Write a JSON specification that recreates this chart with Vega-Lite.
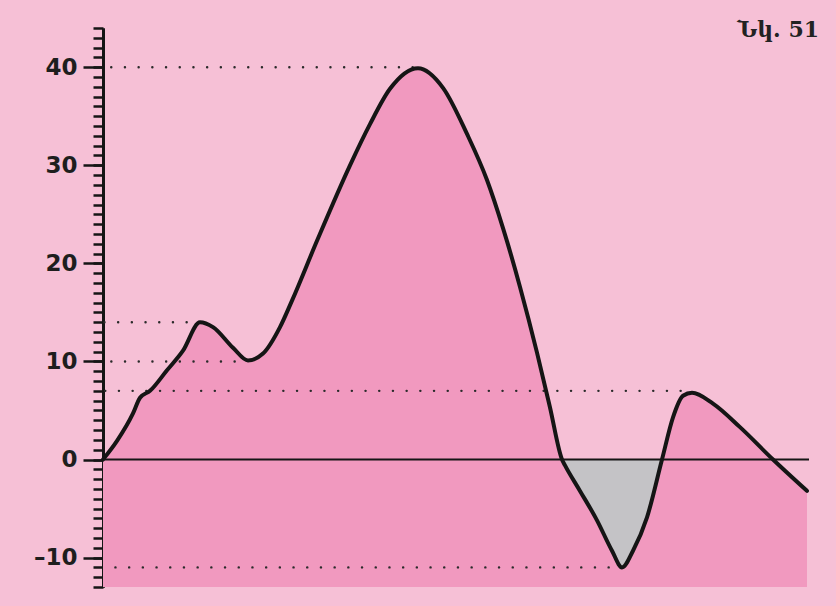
{
  "$schema": "https://vega.github.io/schema/vega-lite/v6.json",
  "width": 706,
  "height": 559,
  "autosize": "none",
  "padding": {"left": 103, "top": 28, "right": 27, "bottom": 19},
  "background": "#f6c0d6",
  "config": {"view": {"stroke": null}},
  "title": {"text": "Նկ. 51", "anchor": "end", "font": "DejaVu Serif", "fontSize": 22, "fontWeight": "bold", "color": "#222222", "offset": -15, "dx": 9},
  "datasets": {
    "curve": [
      {"x": 0, "y": 0}, {"x": 14, "y": 1.9}, {"x": 30, "y": 4.7}, {"x": 37, "y": 6.3},
      {"x": 47, "y": 7.0}, {"x": 64, "y": 9.1}, {"x": 80, "y": 11.1}, {"x": 97, "y": 14.0},
      {"x": 110, "y": 13.5}, {"x": 130, "y": 11.4}, {"x": 145, "y": 10.1}, {"x": 160, "y": 10.8},
      {"x": 177, "y": 13.5}, {"x": 189, "y": 16.2}, {"x": 214, "y": 22.3}, {"x": 247, "y": 30.0},
      {"x": 267, "y": 34.2}, {"x": 287, "y": 37.8}, {"x": 315, "y": 39.9}, {"x": 340, "y": 37.9},
      {"x": 364, "y": 33.2}, {"x": 384, "y": 28.5}, {"x": 400, "y": 23.6}, {"x": 417, "y": 17.6},
      {"x": 434, "y": 10.9}, {"x": 447, "y": 5.3}, {"x": 459, "y": 0}, {"x": 462, "y": -0.6},
      {"x": 477, "y": -3.2}, {"x": 494, "y": -6.2}, {"x": 509, "y": -9.3}, {"x": 519, "y": -11.0},
      {"x": 530, "y": -9.3}, {"x": 544, "y": -5.9}, {"x": 559, "y": 0}, {"x": 570, "y": 4.3},
      {"x": 580, "y": 6.5}, {"x": 589, "y": 6.8}, {"x": 610, "y": 5.7}, {"x": 637, "y": 3.3},
      {"x": 670, "y": 0}, {"x": 704, "y": -3.2}
    ],
    "refs": [
      {"level": 40, "xend": 310},
      {"level": 14, "xend": 84},
      {"level": 10, "xend": 132},
      {"level": 7, "xend": 578},
      {"level": -11, "xend": 506}
    ]
  },
  "resolve": {"axis": {"y": "independent"}},
  "layer": [
    {
      "data": {"name": "curve"},
      "mark": {"type": "area", "color": "#f199bf", "interpolate": "monotone"},
      "encoding": {
        "x": {"field": "x", "type": "quantitative", "scale": {"domain": [0, 706], "nice": false, "zero": false}, "axis": null},
        "y": {"field": "y", "type": "quantitative", "scale": {"domain": [-13, 44], "nice": false},
          "axis": {
            "orient": "left",
            "values": [-10, 0, 10, 20, 30, 40],
            "title": null, "grid": false,
            "domainColor": "#151515", "domainWidth": 3,
            "tickColor": "#151515", "tickWidth": 2.5, "tickSize": 20,
            "labelExpr": "datum.value < 0 ? '–' + abs(datum.value) : '' + datum.value",
            "labelFont": "DejaVu Sans", "labelFontSize": 23, "labelFontWeight": "bold", "labelColor": "#1e1e1e",
            "labelPadding": 6, "labelOverlap": false, "labelFlush": false, "labelBound": false
          }
        },
        "y2": {"datum": -13}
      }
    },
    {
      "data": {"name": "curve"},
      "transform": [{"filter": "datum.x >= 459 && datum.x <= 559"}],
      "mark": {"type": "area", "color": "#c4c3c6", "interpolate": "monotone"},
      "encoding": {
        "x": {"field": "x", "type": "quantitative"},
        "y": {"field": "y", "type": "quantitative", "axis": null},
        "y2": {"datum": 0}
      }
    },
    {
      "data": {"values": [{}]},
      "mark": {"type": "rule", "color": "#151515", "strokeWidth": 2},
      "encoding": {"y": {"datum": 0, "type": "quantitative", "axis": null}}
    },
    {
      "data": {"name": "refs"},
      "mark": {"type": "rule", "color": "#2a2a2a", "strokeWidth": 2.4, "strokeCap": "round", "strokeDash": [0.1, 13.6], "strokeDashOffset": -14},
      "encoding": {
        "x": {"field": "xend", "type": "quantitative"},
        "x2": {"datum": 0},
        "y": {"field": "level", "type": "quantitative", "axis": null}
      }
    },
    {
      "data": {"name": "curve"},
      "mark": {"type": "line", "color": "#151515", "strokeWidth": 4, "interpolate": "monotone", "strokeCap": "round", "strokeJoin": "round"},
      "encoding": {
        "x": {"field": "x", "type": "quantitative"},
        "y": {"field": "y", "type": "quantitative",
          "axis": {
            "orient": "left",
            "values": [-13,-12,-11,-10,-9,-8,-7,-6,-5,-4,-3,-2,-1,0,1,2,3,4,5,6,7,8,9,10,11,12,13,14,15,16,17,18,19,20,21,22,23,24,25,26,27,28,29,30,31,32,33,34,35,36,37,38,39,40,41,42,43,44],
            "title": null, "grid": false, "labels": false,
            "domainColor": "#151515", "domainWidth": 3,
            "tickColor": "#151515", "tickWidth": 2.5, "tickSize": 10
          }
        }
      }
    }
  ]
}
